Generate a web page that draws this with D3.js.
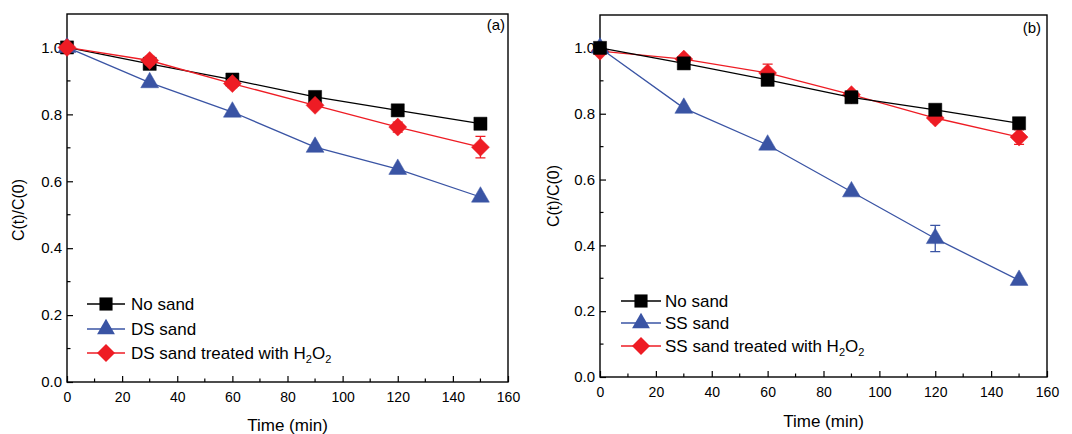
<!DOCTYPE html>
<html><head><meta charset="utf-8">
<script src="https://cdn.jsdelivr.net/npm/d3@7"></script>
<style>body{margin:0;background:#fff}svg{display:block}text{font-family:"Liberation Sans",Arial,sans-serif}</style>
</head><body><svg id="c" width="1072" height="434"></svg>
<script>
const times = [0, 30, 60, 90, 120, 150];
const xTicks = [0, 20, 40, 60, 80, 100, 120, 140, 160];
const yTicks = [0.0, 0.2, 0.4, 0.6, 0.8, 1.0];
// Panel (a)
const aNoSand = [1.0, 0.951, 0.904, 0.852, 0.812, 0.772];
const aDS = [1.0, 0.895, 0.807, 0.702, 0.636, 0.553];
const aDSH2O2 = [1.0, 0.961, 0.892, 0.827, 0.762, 0.702];
const aDSH2O2Err = [0, 0.012, 0.012, 0.008, 0.015, 0.032];
// Panel (b)
const bNoSand = [1.0, 0.953, 0.903, 0.850, 0.812, 0.771];
const bSS = [1.0, 0.817, 0.705, 0.563, 0.421, 0.294];
const bSSErr = [0, 0, 0, 0, 0.04, 0];
const bSSH2O2 = [0.99, 0.966, 0.924, 0.858, 0.787, 0.729];
const bSSH2O2Err = [0, 0, 0.027, 0, 0.012, 0.022];

const BLACK = "#000000", BLUE = "#3a54a4", RED = "#ee1c24";
const svg = d3.select("#c");

const panels = [
  {box:{l:67,r:508,t:14,b:382}, tag:"(a)", tagPos:[505,30], ylabY:210, ylabX:24, xlabY:431,
   legend:{x1:87,x2:125,tx:131,ys:[304,329,353]},
   series:[
     {name:"No sand", vals:aNoSand, err:null, color:BLACK, shape:"square"},
     {name:"DS sand", vals:aDS, err:null, color:BLUE, shape:"triangle"},
     {name:"DS sand treated with H", vals:aDSH2O2, err:aDSH2O2Err, color:RED, shape:"diamond", h2o2:true}
   ], order:[0,1,2]},
  {box:{l:600,r:1047,t:15,b:377}, tag:"(b)", tagPos:[1041,33], ylabY:196, ylabX:559, xlabY:427,
   legend:{x1:621,x2:661,tx:665,ys:[301,323,346]},
   series:[
     {name:"No sand", vals:bNoSand, err:null, color:BLACK, shape:"square"},
     {name:"SS sand", vals:bSS, err:bSSErr, color:BLUE, shape:"triangle"},
     {name:"SS sand treated with H", vals:bSSH2O2, err:bSSH2O2Err, color:RED, shape:"diamond", h2o2:true}
   ], order:[2,1,0]}
];

function symbolPath(shape){
  if(shape==="square") return d3.symbol(d3.symbolSquare, 172)();
  if(shape==="triangle") return d3.symbol(d3.symbolTriangle, 138)();
  return "M0,-9L9,0L0,9L-9,0Z";
}

panels.forEach(p => {
  const B = p.box;
  const x = d3.scaleLinear().domain([0,160]).range([B.l,B.r]);
  const y = d3.scaleLinear().domain([0,1.1]).range([B.b,B.t]);
  const g = svg.append("g");

  g.append("rect").attr("x",B.l).attr("y",B.t).attr("width",B.r-B.l).attr("height",B.b-B.t)
    .attr("fill","none").attr("stroke","#000").attr("stroke-width",1.4);

  const xa = g.append("g").attr("transform",`translate(0,${B.b})`)
    .call(d3.axisBottom(x).tickValues(xTicks).tickSizeInner(-6).tickSizeOuter(0).tickPadding(10).tickFormat(d3.format("d")));
  xa.select(".domain").remove();
  xa.selectAll("text").attr("font-size",14).attr("fill","#000").attr("font-family","Liberation Sans, Arial, sans-serif");
  xa.selectAll("line").attr("stroke","#000").attr("stroke-width",1.2);
  const xm = d3.range(10,160,20);
  g.selectAll(".xm").data(xm).enter().append("line")
    .attr("x1",d=>x(d)).attr("x2",d=>x(d)).attr("y1",B.b).attr("y2",B.b-3.5).attr("stroke","#000").attr("stroke-width",1.2);

  const ya = g.append("g").attr("transform",`translate(${B.l},0)`)
    .call(d3.axisLeft(y).tickValues(yTicks).tickSizeInner(-6).tickSizeOuter(0).tickPadding(5).tickFormat(d3.format(".1f")));
  ya.select(".domain").remove();
  ya.selectAll("text").attr("font-size",15).attr("fill","#000").attr("font-family","Liberation Sans, Arial, sans-serif");
  ya.selectAll("line").attr("stroke","#000").attr("stroke-width",1.2);
  const ym = [0.1,0.3,0.5,0.7,0.9];
  g.selectAll(".ym").data(ym).enter().append("line")
    .attr("y1",d=>y(d)).attr("y2",d=>y(d)).attr("x1",B.l).attr("x2",B.l+3.5).attr("stroke","#000").attr("stroke-width",1.2);

  g.append("text").attr("x",(B.l+B.r)/2).attr("y",p.xlabY).attr("text-anchor","middle").attr("font-size",17).text("Time (min)");
  g.append("text").attr("transform",`translate(${p.ylabX},${p.ylabY}) rotate(-90)`).attr("text-anchor","middle").attr("font-size",16).text("C(t)/C(0)");
  g.append("text").attr("x",p.tagPos[0]).attr("y",p.tagPos[1]).attr("text-anchor","end").attr("font-size",15).text(p.tag);

  const line = d3.line().x((d,i)=>x(times[i])).y(d=>y(d));
  p.order.forEach(si => {
    const s = p.series[si];
    const sg = g.append("g");
    sg.append("path").attr("d",line(s.vals)).attr("fill","none").attr("stroke",s.color).attr("stroke-width",1.3);
    if(s.err){
      s.vals.forEach((v,i)=>{
        const e = s.err[i]; if(!e) return;
        const cx = x(times[i]);
        sg.append("path").attr("d",`M${cx},${y(v+e)}V${y(v-e)}M${cx-5},${y(v+e)}H${cx+5}M${cx-5},${y(v-e)}H${cx+5}`)
          .attr("stroke",s.color).attr("stroke-width",1.3).attr("fill","none");
      });
    }
    sg.selectAll(".m").data(s.vals).enter().append("path")
      .attr("d",symbolPath(s.shape))
      .attr("transform",(d,i)=>`translate(${x(times[i])},${y(d)})`)
      .attr("fill",s.color).attr("stroke",s.color).attr("stroke-width",0.5);
  });

  const L = p.legend;
  p.series.forEach((s,i) => {
    const yy = L.ys[i];
    g.append("line").attr("x1",L.x1).attr("x2",L.x2).attr("y1",yy).attr("y2",yy).attr("stroke",s.color).attr("stroke-width",1.3);
    g.append("path").attr("d",symbolPath(s.shape)).attr("transform",`translate(${(L.x1+L.x2)/2},${yy})`).attr("fill",s.color);
    const t = g.append("text").attr("x",L.tx).attr("y",yy+6).attr("font-size",17);
    t.append("tspan").text(s.name);
    if(s.h2o2){
      t.append("tspan").attr("font-size",11).attr("dy",4).text("2");
      t.append("tspan").attr("dy",-4).text("O");
      t.append("tspan").attr("font-size",11).attr("dy",4).text("2");
    }
  });
});
</script></body></html>
